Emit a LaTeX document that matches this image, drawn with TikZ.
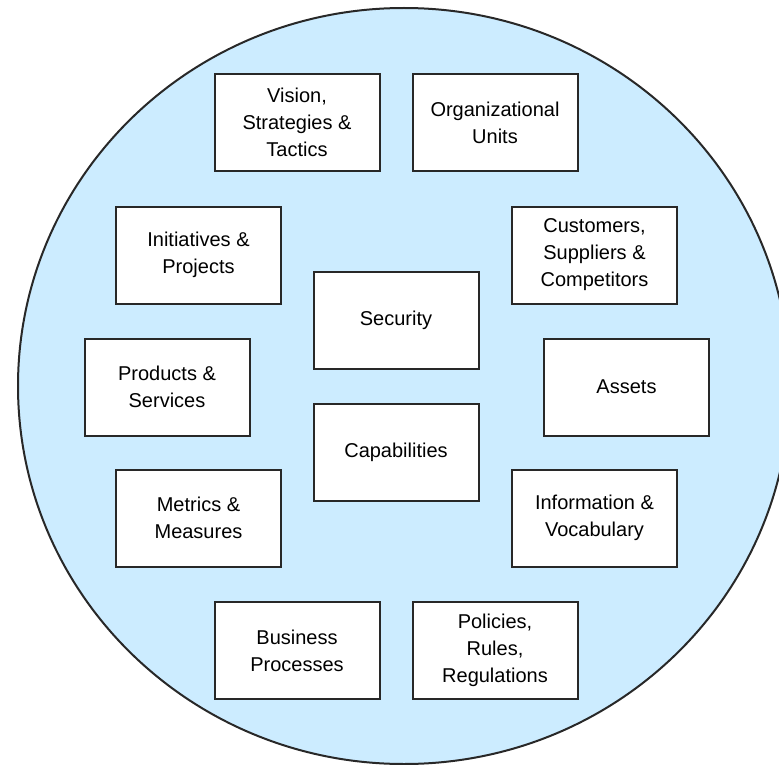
\documentclass[tikz,border=0pt]{standalone}
\usepackage{fontspec}
\setmainfont{Liberation Sans}
\definecolor{bgblue}{RGB}{204,236,255}
\definecolor{edge}{RGB}{40,40,40}
\begin{document}
\begin{tikzpicture}[x=1pt,y=-1pt,
  box/.style={draw=edge,line width=2pt,fill=white,minimum width=165pt,minimum height=97pt,
    align=center,inner sep=0pt,font=\fontsize{20}{27}\selectfont,text=black}]
\useasboundingbox (0,0) rectangle (779,765);
\begin{scope}
\clip (0,0) rectangle (779,765);
\path[fill=bgblue,draw=edge,line width=2pt] (404,386) ellipse [x radius=386, y radius=378];
\end{scope}
\node[box] (vision) at (297,122.5) {Vision,\\Strategies \&\\Tactics};
\node[box] (org) at (495,122.5) {Organizational\\Units};
\node[box] (init) at (198.5,255) {Initiatives \&\\Projects};
\node[box] (cust) at (594.5,255) {Customers,\\Suppliers \&\\Competitors};
\node[box] (sec) at (396,320.5) {Security};
\node[box] (prod) at (167,387) {Products \&\\Services};
\node[box] (assets) at (626.5,387) {Assets};
\node[box] (cap) at (396,452.5) {Capabilities};
\node[box] (metrics) at (198.5,518) {Metrics \&\\Measures};
\node[box] (info) at (594.5,518) {Information \&\\Vocabulary};
\node[box] (bp) at (297,650.5) {Business\\Processes};
\node[box] (pol) at (495,650.5) {Policies,\\Rules,\\Regulations};
\end{tikzpicture}
\end{document}
